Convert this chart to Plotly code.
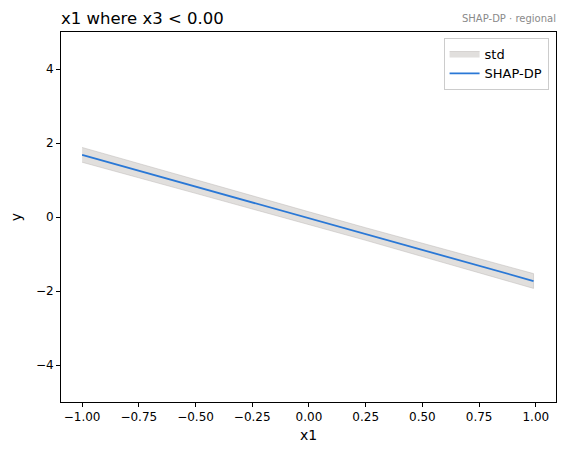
import plotly.graph_objects as go

x_vals = [-1.0, -0.75, -0.5, -0.25, 0.0, 0.25, 0.5, 0.75, 0.99]
y_mean = [1.68, 1.25, 0.82, 0.40, -0.03, -0.46, -0.89, -1.31, -1.73]
y_std = [0.20, 0.19, 0.18, 0.17, 0.17, 0.17, 0.18, 0.19, 0.20]

upper = [m + s for m, s in zip(y_mean, y_std)]
lower = [m - s for m, s in zip(y_mean, y_std)]

fig = go.Figure()
fig.add_trace(go.Scatter(
    x=x_vals + x_vals[::-1], y=upper + lower[::-1], mode="lines",
    fill="toself", fillcolor="rgba(205,202,199,0.6)",
    line=dict(color="rgba(185,182,179,0.6)", width=0.8),
    name="std", hoverinfo="skip"))
fig.add_trace(go.Scatter(
    x=x_vals, y=y_mean, mode="lines",
    line=dict(color="#2a78d6", width=1.8), name="SHAP-DP"))

font = "DejaVu Sans, Arial, sans-serif"
fig.update_layout(
    width=565, height=455,
    margin=dict(l=61, r=9, t=32, b=53),
    paper_bgcolor="white", plot_bgcolor="white",
    font=dict(family=font, size=12, color="black"),
    showlegend=True,
    legend=dict(x=0.985, y=0.985, xanchor="right", yanchor="top",
                bgcolor="rgba(255,255,255,0.8)", bordercolor="#cccccc",
                borderwidth=1, font=dict(size=13), itemwidth=30,
                tracegroupgap=0),
    title=dict(text="x1 where x3 < 0.00", x=61/565, xanchor="left",
               y=1 - 18/455, yanchor="middle", font=dict(size=16.5, family=font)),
    annotations=[dict(text="SHAP-DP · regional", xref="paper", yref="paper",
                      x=1.0, y=1.0, xanchor="right", yanchor="bottom", yshift=6, xshift=2,
                      showarrow=False, font=dict(size=10, color="#8a8a8a"))],
)
fig.update_xaxes(range=[-1.093, 1.089], tickvals=[-1, -0.75, -0.5, -0.25, 0, 0.25, 0.5, 0.75, 1],
                 ticktext=["−1.00", "−0.75", "−0.50", "−0.25", "0.00", "0.25", "0.50", "0.75", "1.00"],
                 showline=True, linecolor="black", linewidth=1, mirror=True,
                 ticks="outside", ticklen=4, tickcolor="black", showgrid=False, zeroline=False,
                 title=dict(text="x1", standoff=6), tickfont=dict(size=12))
fig.update_yaxes(range=[-5, 5], tickvals=[-4, -2, 0, 2, 4],
                 ticktext=["−4", "−2", "0", "2", "4"],
                 showline=True, linecolor="black", linewidth=1, mirror=True,
                 ticks="outside", ticklen=4, tickcolor="black", showgrid=False, zeroline=False,
                 title=dict(text="y", standoff=10), tickfont=dict(size=12))

fig.write_html("out.html")
